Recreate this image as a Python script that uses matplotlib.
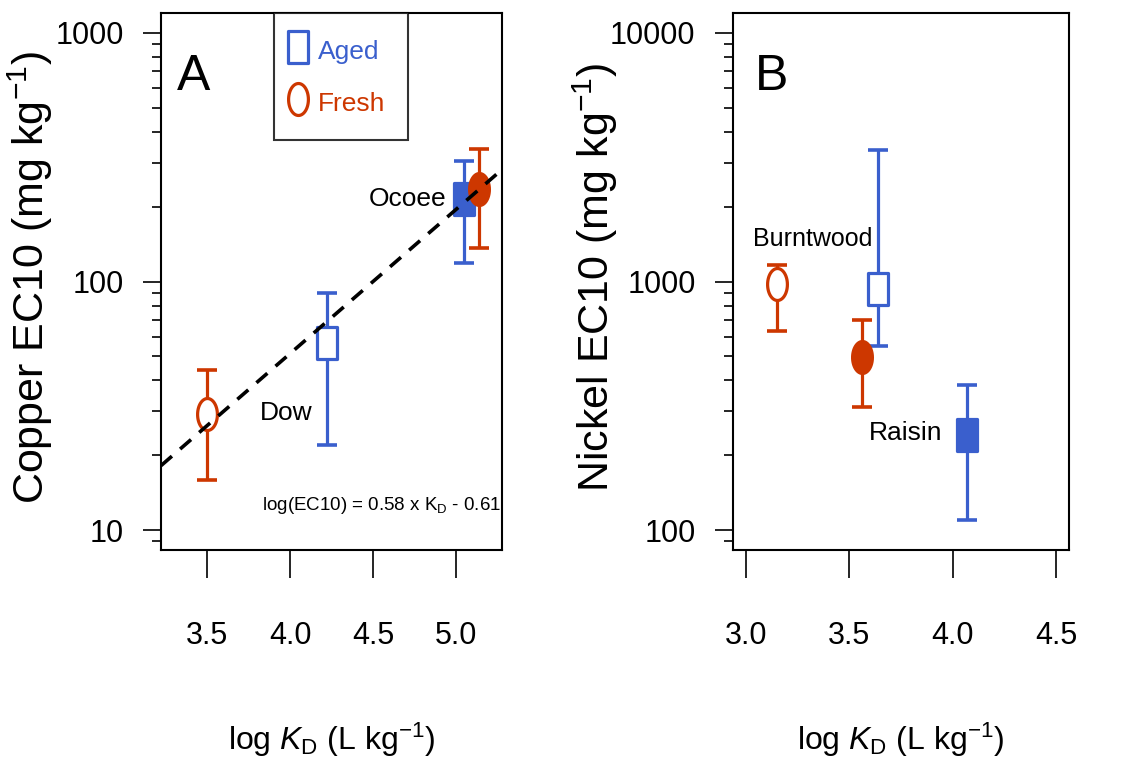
import numpy as np
import matplotlib
matplotlib.use("Agg")
import matplotlib.pyplot as plt
from matplotlib import font_manager
from matplotlib.path import Path
from matplotlib.lines import Line2D
from matplotlib.ticker import LogLocator, NullFormatter, FixedLocator

# pick a narrow face if the system has one
names = {f.name for f in font_manager.fontManager.ttflist}
NARROW = "Liberation Sans Narrow" if "Liberation Sans Narrow" in names else "Liberation Sans"
plt.rcParams["font.family"] = [NARROW, "DejaVu Sans"]
plt.rcParams["mathtext.fontset"] = "custom"
plt.rcParams["mathtext.rm"] = NARROW
plt.rcParams["mathtext.it"] = NARROW + ":italic"

BLUE = "#3a5fcd"
RED = "#cd3700"

# ---- data: panel A (copper) ----
cu_kd = [3.50, 4.22, 5.05, 5.14]
cu_ec10 = [29.2, 56.4, 215, 236]
cu_lo = [15.9, 21.9, 119, 136]
cu_hi = [44.0, 89.6, 306, 342]
cu_type = ["Fresh", "Aged", "Aged", "Fresh"]
cu_filled = [False, False, True, True]

# ---- data: panel B (nickel) ----
ni_kd = [3.15, 3.56, 3.64, 4.07]
ni_ec10 = [975, 495, 937, 241]
ni_lo = [630, 312, 548, 110]
ni_hi = [1170, 697, 3390, 382]
ni_type = ["Fresh", "Fresh", "Aged", "Aged"]
ni_filled = [False, True, False, True]

# regression for copper: log(EC10) = 0.58 * KD - 0.61
slope, intercept = 0.58, -0.61

cu_labels = ["Dow", "Ocoee"]
ni_labels = ["Burntwood", "Raisin"]

# squashed marker shapes (the original image is compressed sideways)
sx = 0.62
t = np.linspace(0, 2 * np.pi, 60)
ellipse = Path(np.column_stack([sx * np.cos(t), np.sin(t)]), closed=True)
rect = Path([(-sx, -1), (sx, -1), (sx, 1), (-sx, 1), (-sx, -1)], closed=True)
shape = {"Fresh": ellipse, "Aged": rect}
color = {"Fresh": RED, "Aged": BLUE}


def draw_points(ax, kd, ec, lo, hi, kind, filled):
    for x, y, l, h, k, f in zip(kd, ec, lo, hi, kind, filled):
        ax.errorbar([x], [y], yerr=[[y - l], [h - y]], fmt="none",
                    ecolor=color[k], elinewidth=2.3, capsize=7.5, capthick=2.6, zorder=2)
        ax.plot([x], [y], marker=shape[k], ms=23, mew=2.3, mec=color[k],
                mfc=color[k] if f else "white", ls="none", zorder=3)


def style_axes(ax, xticks, yticks):
    for s in ax.spines.values():
        s.set_linewidth(1.5)
    ax.set_yscale("log")
    ax.xaxis.set_major_locator(FixedLocator(xticks))
    ax.set_xticklabels([f"{v:.1f}" for v in xticks])
    ax.yaxis.set_major_locator(FixedLocator(yticks))
    ax.set_yticklabels([str(v) for v in yticks])
    ax.yaxis.set_minor_locator(LogLocator(base=10, subs=np.arange(2, 10)))
    ax.yaxis.set_minor_formatter(NullFormatter())
    ax.tick_params(axis="x", length=20, width=1.2, pad=31, labelsize=22)
    ax.tick_params(axis="y", which="major", length=13, width=1.2, pad=14, labelsize=22)
    ax.tick_params(axis="y", which="minor", length=6.5, width=1.2)
    ax.set_xlabel(r"log $\mathit{K}_\mathrm{D}$ (L kg$^{-1}$)", fontsize=23, labelpad=50)


fig = plt.figure(figsize=(11.3, 7.66), dpi=100)
axA = fig.add_axes([0.1425, 0.282, 0.3018, 0.701])
axB = fig.add_axes([0.6487, 0.282, 0.2973, 0.701])

# panel A
draw_points(axA, cu_kd, cu_ec10, cu_lo, cu_hi, cu_type, cu_filled)
xlimA = (3.223, 5.277)
xx = np.array(xlimA)
axA.plot(xx, 10 ** (slope * xx + intercept), color="black", lw=2.6, ls=(0, (4, 3)), zorder=4)
axA.set_xlim(*xlimA)
axA.set_ylim(10 ** 0.92, 10 ** 3.08)
style_axes(axA, [3.5, 4.0, 4.5, 5.0], [10, 100, 1000])
axA.set_ylabel("Copper EC10 (mg kg$^{-1}$)", family=["Liberation Sans", "DejaVu Sans"],
               fontsize=31)
axA.yaxis.set_label_coords(-0.31, 0.508)
axA.text(0.047, 0.88, "A", transform=axA.transAxes, fontsize=36, va="center", ha="left")
axA.text(3.82, 29.5, cu_labels[0], fontsize=19, va="center", ha="left")
axA.text(4.94, 215, cu_labels[1], fontsize=19, va="center", ha="right")
axA.text(3.83, 12.6, r"log(EC10) = 0.58 x K$_\mathrm{D}$ - 0.61", fontsize=13.5,
         va="center", ha="left")

handles = [Line2D([], [], marker=rect, ms=23, mew=2.3, mec=BLUE, mfc="white", ls="none"),
           Line2D([], [], marker=ellipse, ms=23, mew=2.3, mec=RED, mfc="white", ls="none")]
leg = axA.legend(handles, ["Aged", "Fresh"], loc="upper left", bbox_to_anchor=(0.332, 1.0),
                 borderaxespad=0, fontsize=19, frameon=True, fancybox=False,
                 edgecolor="black", borderpad=0.85, handletextpad=0.7, handlelength=0.1,
                 handleheight=1.4, labelspacing=0.8)
leg.get_frame().set_linewidth(1.5)
for txt, k in zip(leg.get_texts(), ["Aged", "Fresh"]):
    txt.set_color(color[k])

# panel B
draw_points(axB, ni_kd, ni_ec10, ni_lo, ni_hi, ni_type, ni_filled)
axB.set_xlim(2.937, 4.563)
axB.set_ylim(10 ** 1.92, 10 ** 4.08)
style_axes(axB, [3.0, 3.5, 4.0, 4.5], [100, 1000, 10000])
axB.set_ylabel("Nickel EC10 (mg kg$^{-1}$)", family=["Liberation Sans", "DejaVu Sans"],
               fontsize=31)
axB.yaxis.set_label_coords(-0.335, 0.508)
axB.text(0.065, 0.88, "B", transform=axB.transAxes, fontsize=36, va="center", ha="left")
axB.text(3.034, 1476, ni_labels[0], fontsize=18, va="center", ha="left")
axB.text(3.95, 245, ni_labels[1], fontsize=19, va="center", ha="right")

fig.savefig("out.png", dpi=100)
